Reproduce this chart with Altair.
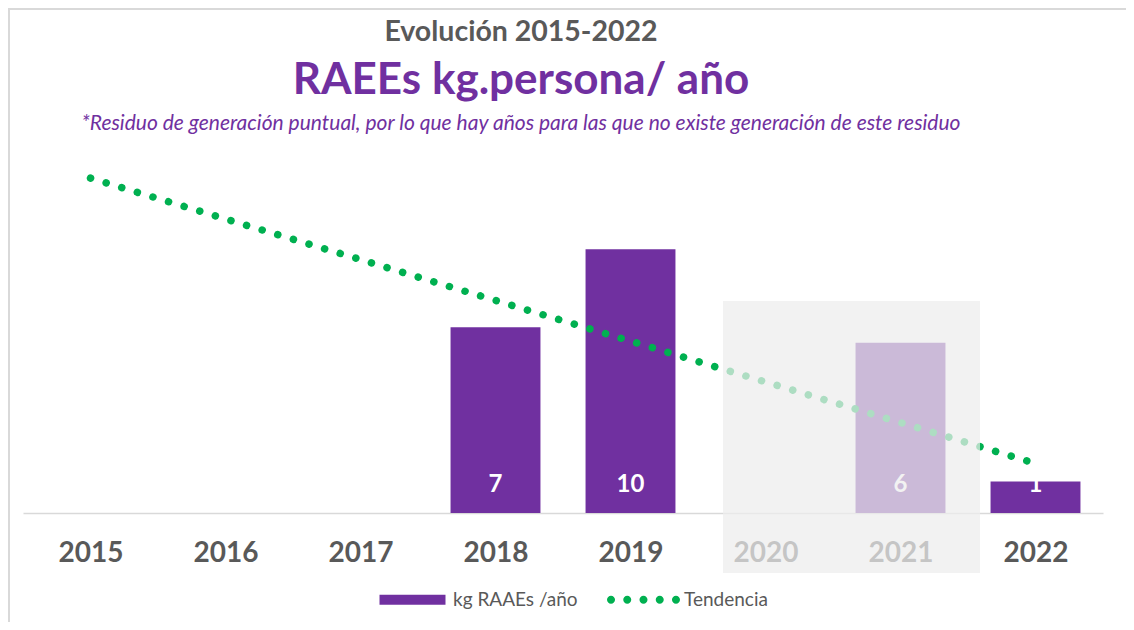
import altair as alt
import pandas as pd

# ---- data ----
years = [2015, 2016, 2017, 2018, 2019, 2020, 2021, 2022]
bar_years = [2018, 2019, 2021, 2022]
bar_values = [7.04, 10.0, 6.46, 1.19]
trend_values = [12.7, 11.15, 9.61, 8.06, 6.52, 4.97, 3.43, 1.88]
shade_years = [2019.685, 2021.589]   # faded (2020-2021) zone
shade_range = [-2.28, 8.04]
series_names = ["kg RAAEs /año", "Tendencia"]

PURPLE = "#7030A0"
GREEN = "#00B050"
GREY = "#595959"
FONT = "Lato"

bars_df = pd.DataFrame({"year": bar_years, "value": bar_values})
trend_df = pd.DataFrame({"year": years, "trend": trend_values})
shade_df = pd.DataFrame({"x0": [shade_years[0]], "x1": [shade_years[1]],
                         "y0": [shade_range[0]], "y1": [shade_range[1]]})
legend_df = pd.DataFrame({"series": series_names})

xscale = alt.Scale(domain=[2014.5, 2022.5], nice=False, zero=False)
yscale = alt.Scale(domain=[0, 13.5], nice=False)

bars = alt.Chart(bars_df).transform_calculate(
    x0="datum.year - 0.333", x1="datum.year + 0.333"
).mark_rect(color=PURPLE).encode(
    x=alt.X("x0:Q", scale=xscale, title=None,
            axis=alt.Axis(values=years, format="d", ticks=False, grid=False,
                          labelFont=FONT, labelFontSize=28, labelFontWeight="bold",
                          labelColor=GREY, labelPadding=26, domainColor="#D9D9D9",
                          domainWidth=1.5, zindex=0, labelFlush=False)),
    x2="x1:Q",
    y=alt.Y("value:Q", scale=yscale, axis=None),
    y2=alt.datum(0),
)

bar_labels = alt.Chart(bars_df).mark_text(
    color="white", font=FONT, fontSize=24, fontWeight="bold", dy=-28, baseline="middle"
).encode(
    x="year:Q",
    y=alt.datum(0),
    text=alt.Text("value:Q", format=".0f"),
)

trend = alt.Chart(trend_df).mark_line(
    color=GREEN, strokeWidth=7.5, strokeDash=[0.1, 16.2], strokeCap="round"
).encode(x="year:Q", y="trend:Q")

shade = alt.Chart(shade_df).mark_rect(color="#EDEDED", opacity=0.73).encode(
    x="x0:Q", x2="x1:Q", y="y0:Q", y2="y1:Q"
)

title1 = alt.Chart().mark_text(
    text="Evolución 2015-2022", font=FONT, fontSize=28.5, fontWeight="bold",
    color=GREY, align="center", baseline="middle"
).encode(x=alt.value(498), y=alt.value(-125))

title2 = alt.Chart().mark_text(
    text="RAEEs kg.persona/ año", font=FONT, fontSize=44, fontWeight="bold",
    color=PURPLE, align="center", baseline="middle"
).encode(x=alt.value(498), y=alt.value(-76))

subtitle = alt.Chart().mark_text(
    text="*Residuo de generación puntual, por lo que hay años para las que no existe generación de este residuo",
    font=FONT, fontSize=21, fontStyle="italic", color=PURPLE,
    align="center", baseline="middle"
).encode(x=alt.value(498), y=alt.value(-33))

# chart-area frame (top and left edges visible in the reference)
frame_top = alt.Chart().mark_rule(color="#D9D9D9", strokeWidth=2).encode(
    x=alt.value(-15), x2=alt.value(1103), y=alt.value(-148)
)
frame_left = alt.Chart().mark_rule(color="#D9D9D9", strokeWidth=2).encode(
    x=alt.value(-14), y=alt.value(-149), y2=alt.value(470)
)

rect_path = "M-0.904,-0.137H0.904V0.137H-0.904Z"
r = 0.11
dots = ""
for cx in [-0.89, -0.445, 0.0, 0.445, 0.89]:
    dots += f"M{cx - r:.3f},0A{r},{r} 0 1,0 {cx + r:.3f},0A{r},{r} 0 1,0 {cx - r:.3f},0Z"

legend_spec = alt.Legend(
    title=None, orient="none", legendX=353, legendY=406, direction="horizontal",
    labelFont=FONT, labelFontSize=19, labelColor=GREY, columnPadding=29,
    labelOffset=4, symbolOpacity=1, symbolStrokeWidth=0, symbolSize=5329,
)

legend_layer = alt.Chart(legend_df).mark_point(filled=True, opacity=0, size=5329).encode(
    color=alt.Color("series:N", scale=alt.Scale(domain=series_names, range=[PURPLE, GREEN]),
                    legend=legend_spec),
    shape=alt.Shape("series:N", scale=alt.Scale(domain=series_names, range=[rect_path, dots]),
                    legend=legend_spec),
    x=alt.datum(2015), y=alt.datum(0),
)

chart = alt.layer(
    bars, bar_labels, trend, shade, title1, title2, subtitle,
    frame_top, frame_left, legend_layer
).properties(
    width=1080, height=356,
    autosize=alt.AutoSizeParams(type="none"),
    padding={"left": 15, "top": 149, "right": 23, "bottom": 109},
).configure_view(stroke=None)

chart.save("out.html", embed_options={"renderer": "svg", "actions": False})
